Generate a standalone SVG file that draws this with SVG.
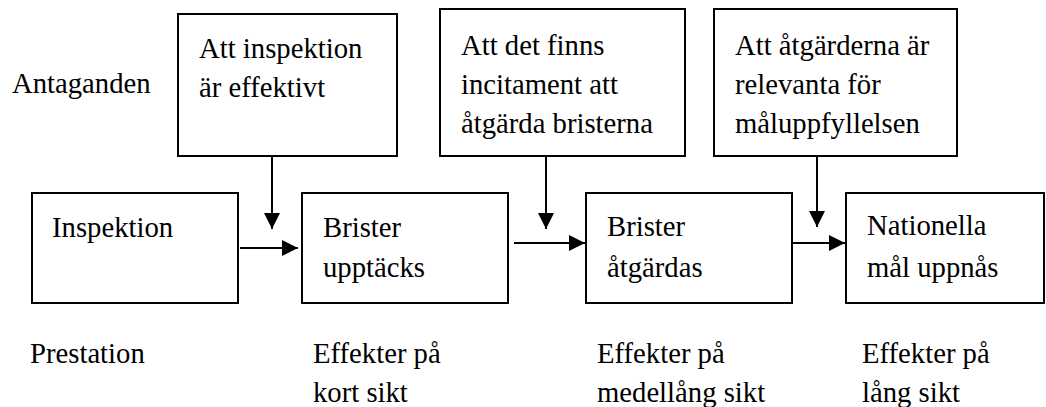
<svg xmlns="http://www.w3.org/2000/svg" width="1046" height="407" viewBox="0 0 1046 407">
  <style>
    .box { fill: #ffffff; stroke: #000000; stroke-width: 2; }
    .lbl { font-family: "Liberation Serif", "Times New Roman", serif; font-size: 28.7px; fill: #000000; }
    .conn { stroke: #000000; stroke-width: 2; fill: none; }
  </style>
  <defs>
    <marker id="arrow" viewBox="0 0 16 16" refX="16" refY="8" markerWidth="16" markerHeight="16" markerUnits="userSpaceOnUse" orient="auto">
      <path d="M0,0 L16,8 L0,16 Z" fill="#000000"/>
    </marker>
  </defs>

  <rect width="1046" height="407" fill="#ffffff"/>

  <!-- row headings -->
  <text class="lbl" x="12" y="93">Antaganden</text>

  <!-- assumption boxes -->
  <g id="ant-inspektion">
    <rect class="box" x="178" y="14" width="219" height="142"/>
    <text class="lbl" x="199" y="58">Att inspektion</text>
    <text class="lbl" x="199" y="97">är effektivt</text>
  </g>
  <g id="ant-incitament">
    <rect class="box" x="440" y="9" width="245" height="147"/>
    <text class="lbl" x="461" y="55">Att det finns</text>
    <text class="lbl" x="461" y="94">incitament att</text>
    <text class="lbl" x="461" y="133">åtgärda bristerna</text>
  </g>
  <g id="ant-relevans">
    <rect class="box" x="714" y="9" width="243" height="147"/>
    <text class="lbl" x="735" y="55">Att åtgärderna är</text>
    <text class="lbl" x="735" y="94">relevanta för</text>
    <text class="lbl" x="735" y="133">måluppfyllelsen</text>
  </g>

  <!-- chain boxes -->
  <g id="inspektion">
    <rect class="box" x="32" y="193" width="206" height="110"/>
    <text class="lbl" x="52" y="237">Inspektion</text>
  </g>
  <g id="brister-upptacks">
    <rect class="box" x="302" y="193" width="206" height="110"/>
    <text class="lbl" x="323" y="237">Brister</text>
    <text class="lbl" x="323" y="277">upptäcks</text>
  </g>
  <g id="brister-atgardas">
    <rect class="box" x="586" y="193" width="206" height="110"/>
    <text class="lbl" x="607" y="236">Brister</text>
    <text class="lbl" x="607" y="277">åtgärdas</text>
  </g>
  <g id="nationella-mal">
    <rect class="box" x="846" y="193" width="198" height="110"/>
    <text class="lbl" x="867" y="235">Nationella</text>
    <text class="lbl" x="867" y="277">mål uppnås</text>
  </g>

  <!-- connectors -->
  <g id="connectors">
    <line class="conn" x1="240" y1="248" x2="298" y2="248" marker-end="url(#arrow)"/>
    <line class="conn" x1="514" y1="243" x2="585" y2="243" marker-end="url(#arrow)"/>
    <line class="conn" x1="793" y1="243" x2="845" y2="243" marker-end="url(#arrow)"/>
    <line class="conn" x1="272" y1="156" x2="272" y2="229" marker-end="url(#arrow)"/>
    <line class="conn" x1="546" y1="156" x2="546" y2="229" marker-end="url(#arrow)"/>
    <line class="conn" x1="817" y1="156" x2="817" y2="227" marker-end="url(#arrow)"/>
  </g>

  <!-- result level labels -->
  <text class="lbl" x="30" y="363">Prestation</text>
  <text class="lbl" x="313" y="363">Effekter på</text>
  <text class="lbl" x="313" y="402">kort sikt</text>
  <text class="lbl" x="597" y="363">Effekter på</text>
  <text class="lbl" x="597" y="402">medellång sikt</text>
  <text class="lbl" x="862" y="363">Effekter på</text>
  <text class="lbl" x="862" y="402">lång sikt</text>
</svg>
